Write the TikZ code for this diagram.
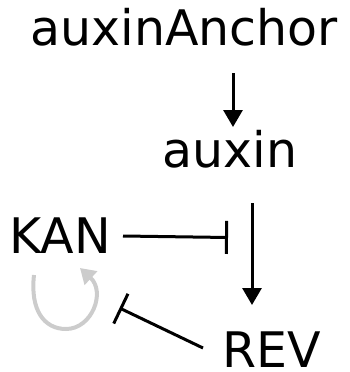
\documentclass[tikz,border=0pt]{standalone}
\usepackage{fontspec}
\setmainfont{DejaVu Sans}
\usetikzlibrary{arrows.meta}
\tikzset{
  lbl/.style={inner sep=0pt, anchor=base, font=\fontsize{49}{58}\selectfont},
  act/.style={line width=3pt, -{Triangle[length=17pt,width=19pt]}},
  inh/.style={line width=3pt, -{Bar[width=33pt,line width=3pt]}},
  self/.style={line width=4pt, draw={rgb,255:red,204;green,204;blue,204}, -{Triangle[length=15pt,width=18pt,fill={rgb,255:red,204;green,204;blue,204}]}},
}
\begin{document}
\begin{tikzpicture}[x=1pt,y=1pt]
\useasboundingbox (0,0) rectangle (349,-372);
\node[lbl] (anchor) at (184,-45) {auxinAnchor};
\node[lbl] (auxin) at (230,-167) {auxin};
\node[lbl] (kan) at (60,-253) {KAN};
\node[lbl] (rev) at (271.5,-367) {REV};
% connector end points
\coordinate (a1s) at (233,-73);
\coordinate (a1e) at (233,-127);
\coordinate (a2s) at (252,-203);
\coordinate (a2e) at (252,-305);
\coordinate (i1s) at (123,-236);
\coordinate (i1e) at (228,-237.5);
\coordinate (i2s) at (203,-348);
\coordinate (i2e) at (119.5,-308);
\coordinate (ls) at (34,-275);
\coordinate (lb) at (66,-329);
\coordinate (le) at (80,-268);
\draw[act] (a1s) -- (a1e);
\draw[act] (a2s) -- (a2e);
\draw[inh] (i1s) -- (i1e);
\draw[inh] (i2s) -- (i2e);
\draw[self] (ls) .. controls (30,-310) and (44,-329) .. (lb)
  .. controls (92,-329) and (106,-292) .. (le);
\end{tikzpicture}
\end{document}
